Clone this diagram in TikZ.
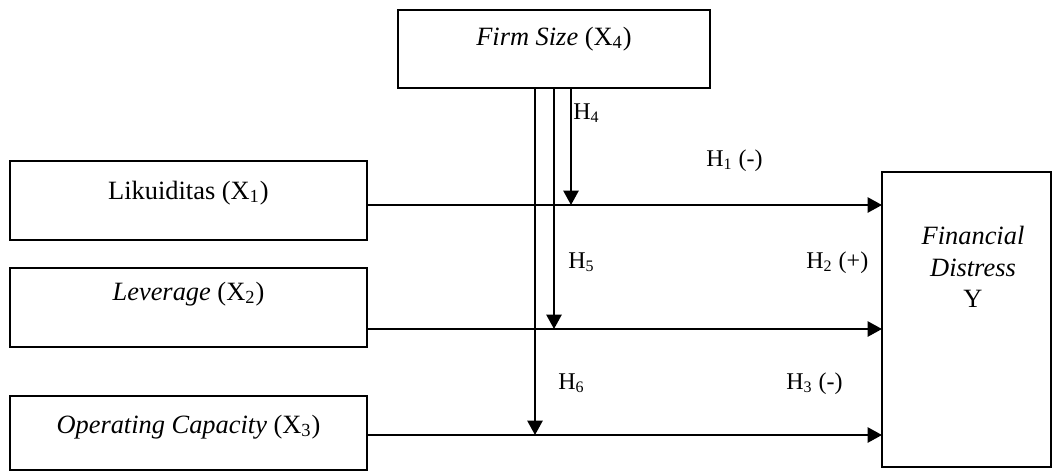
\documentclass[tikz,border=0pt]{standalone}
\usepackage{fontspec}
\setmainfont{Liberation Serif}
\usetikzlibrary{arrows.meta}

\begin{document}
\begin{tikzpicture}[x=0.5pt, y=-0.5pt,
  var/.style={draw, line width=1pt, inner sep=0pt, outer sep=0pt, text height=8pt, font=\fontsize{13.2}{15.75}\selectfont},
  lbl/.style={inner sep=0pt, anchor=base west, font=\fontsize{12}{15.75}\selectfont},
  arr/.style={line width=1pt, -{Triangle[length=7.2pt, width=7.6pt]}}
]
\useasboundingbox (0,0) rectangle (1053,473);
\node[var, minimum width=156pt, minimum height=39pt, text depth=12pt] (firm) at (554,49) {\textit{Firm Size} (X\textsubscript{4})};
\node[var, minimum width=178.5pt, minimum height=39.5pt, text depth=9.5pt] (lik) at (188.5,200.5) {Likuiditas (X\textsubscript{1})};
\node[var, minimum width=178.5pt, minimum height=39.5pt, text depth=15.5pt] (lev) at (188.5,307.5) {\textit{Leverage} (X\textsubscript{2})};
\node[var, minimum width=178.5pt, minimum height=37pt, text depth=8pt] (op) at (188.5,433) {\textit{Operating Capacity} (X\textsubscript{3})};
\node[var, minimum width=84.5pt, minimum height=147.5pt] (fd) at (966.5,319.5) {};
\node[align=center, anchor=north, inner sep=0pt, font=\fontsize{13.2}{15.75}\selectfont] (fdtext) at (973,226) {\textit{Financial}\\\textit{Distress}\\Y};
\coordinate (m4) at (571,205);
\coordinate (m5) at (554,329);
\coordinate (m6) at (535,435);
\draw[arr] (lik.east |- m4) -- (fd.west |- m4);
\draw[arr] (lev.east |- m5) -- (fd.west |- m5);
\draw[arr] (op.east |- m6) -- (fd.west |- m6);
\draw[arr] (firm.south -| m4) -- (m4);
\draw[arr] (firm.south -| m5) -- (m5);
\draw[arr] (firm.south -| m6) -- (m6);
\node[lbl] (h4) at (573,119) {H\textsubscript{4}};
\node[lbl] (h1) at (706,166) {H\textsubscript{1} (-)};
\node[lbl] (h5) at (568,268) {H\textsubscript{5}};
\node[lbl] (h2) at (806,268) {H\textsubscript{2} (+)};
\node[lbl] (h6) at (558,389) {H\textsubscript{6}};
\node[lbl] (h3) at (786,389) {H\textsubscript{3} (-)};
\end{tikzpicture}
\end{document}
